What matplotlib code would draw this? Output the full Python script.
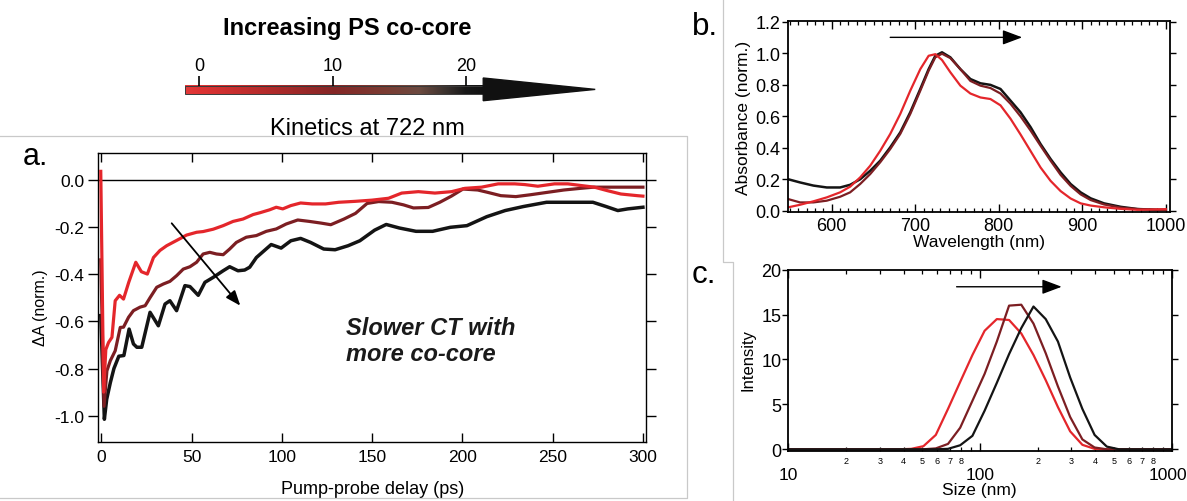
import numpy as np
import matplotlib
matplotlib.use("Agg")
import matplotlib.pyplot as plt
from matplotlib import ticker, transforms
from matplotlib.colors import LinearSegmentedColormap
from matplotlib.lines import Line2D
from matplotlib.patches import Polygon, Rectangle

plt.rcParams["font.family"] = ["Liberation Sans", "DejaVu Sans"]

RED = "#e4262b"
DARKRED = "#7c1e22"
BLACK = "#141414"

# ---- panel a: kinetics at 722 nm ----
red_t = [-0.3, 1.3, 2.5, 4.0, 5.9, 7.7, 10.1, 12.3, 15.2, 19.1, 22.2, 25.5, 28.9, 32.5,
         36.2, 39.9, 43.6, 47.2, 52.8, 56.4, 62.0, 67.5, 73.0, 78.5, 84.1, 88.0, 93.2,
         96.9, 100.5, 105.0, 110.4, 116.8, 124.2, 131.5, 140.7, 149.9, 159.1, 166.4,
         175.6, 184.8, 194.0, 201.4, 210.6, 219.8, 229.0, 234.5, 241.8, 251.0, 258.4,
         265.7, 273.1, 280.4, 287.8, 296.9, 300.0]
red_dA = [0.035, -0.90, -0.72, -0.69, -0.668, -0.513, -0.49, -0.506, -0.435, -0.35,
          -0.39, -0.40, -0.33, -0.30, -0.28, -0.265, -0.25, -0.235, -0.223, -0.22,
          -0.21, -0.195, -0.177, -0.167, -0.148, -0.14, -0.128, -0.117, -0.124, -0.11,
          -0.099, -0.103, -0.103, -0.096, -0.092, -0.087, -0.079, -0.057, -0.051,
          -0.057, -0.051, -0.037, -0.032, -0.018, -0.018, -0.021, -0.028, -0.018,
          -0.018, -0.025, -0.032, -0.047, -0.061, -0.068, -0.07]

dkred_t = [-0.3, 1.5, 3.1, 5.0, 7.7, 10.5, 12.3, 15.1, 17.8, 21.5, 24.3, 27.0, 30.7,
           34.4, 38.0, 41.7, 45.4, 49.1, 52.8, 56.4, 60.1, 63.8, 67.5, 71.1, 74.8, 80.3,
           85.9, 91.4, 96.9, 102.4, 108.8, 115.2, 121.6, 127.1, 134.4, 140.8, 147.2,
           153.6, 161.0, 167.4, 172.9, 181.1, 187.5, 193.9, 200.3, 208.5, 214.0, 221.3,
           229.6, 237.8, 247.0, 256.2, 265.4, 272.7, 283.7, 300.0]
dkred_dA = [-0.34, -0.96, -0.81, -0.767, -0.725, -0.626, -0.625, -0.583, -0.555, -0.54,
            -0.534, -0.50, -0.456, -0.442, -0.431, -0.407, -0.379, -0.369, -0.35, -0.315,
            -0.308, -0.315, -0.318, -0.294, -0.266, -0.244, -0.237, -0.219, -0.209,
            -0.188, -0.171, -0.177, -0.184, -0.191, -0.167, -0.143, -0.101, -0.093,
            -0.096, -0.107, -0.12, -0.118, -0.096, -0.07, -0.04, -0.044, -0.054, -0.068,
            -0.072, -0.064, -0.054, -0.044, -0.037, -0.032, -0.032, -0.032]

black_t = [-0.3, 1.7, 3.0, 5.0, 7.0, 9.7, 12.5, 15.4, 17.8, 19.7, 22.4, 27.0, 31.6,
           35.3, 38.0, 41.7, 46.3, 49.1, 53.7, 57.4, 62.0, 67.5, 71.1, 75.7, 79.4, 82.2,
           85.9, 94.1, 99.6, 105.0, 110.4, 115.9, 123.2, 129.5, 136.7, 143.2, 151.4,
           157.8, 165.1, 174.3, 183.5, 193.3, 202.5, 213.5, 223.7, 233.8, 246.6, 259.5,
           272.3, 279.6, 286.1, 291.6, 300.0]
black_dA = [-0.576, -1.015, -0.93, -0.86, -0.80, -0.748, -0.745, -0.633, -0.696, -0.71,
            -0.71, -0.562, -0.619, -0.527, -0.513, -0.555, -0.449, -0.453, -0.49, -0.435,
            -0.414, -0.386, -0.369, -0.386, -0.383, -0.371, -0.33, -0.275, -0.29, -0.259,
            -0.249, -0.266, -0.294, -0.297, -0.28, -0.259, -0.214, -0.19, -0.205, -0.219,
            -0.219, -0.202, -0.195, -0.157, -0.131, -0.114, -0.096, -0.096, -0.096,
            -0.114, -0.131, -0.124, -0.117]

# ---- panel b: absorbance spectra ----
wavelength = [548, 562, 578, 594, 610, 622, 634, 646, 658, 670, 682, 694, 706, 716, 724,
              732, 742, 754, 766, 778, 790, 802, 814, 826, 838, 850, 862, 874, 886, 898,
              910, 926, 946, 966, 990, 1000]
abs_black = [0.20, 0.18, 0.16, 0.148, 0.148, 0.165, 0.20, 0.254, 0.318, 0.403, 0.498,
             0.626, 0.774, 0.90, 0.985, 1.007, 0.975, 0.90, 0.837, 0.81, 0.80, 0.774,
             0.70, 0.626, 0.532, 0.424, 0.329, 0.244, 0.17, 0.117, 0.079, 0.047, 0.025,
             0.011, 0.006, 0.006]
abs_dkred = [0.074, 0.053, 0.053, 0.064, 0.089, 0.117, 0.17, 0.233, 0.308, 0.392, 0.488,
             0.615, 0.763, 0.89, 0.975, 0.998, 0.97, 0.90, 0.825, 0.795, 0.78, 0.745,
             0.68, 0.60, 0.51, 0.413, 0.318, 0.228, 0.158, 0.104, 0.068, 0.04, 0.02,
             0.011, 0.006, 0.006]
abs_red = [0.022, 0.038, 0.06, 0.085, 0.117, 0.153, 0.212, 0.286, 0.381, 0.488, 0.615,
           0.763, 0.90, 0.985, 0.995, 0.958, 0.88, 0.795, 0.745, 0.72, 0.71, 0.67, 0.585,
           0.485, 0.38, 0.275, 0.19, 0.125, 0.078, 0.047, 0.033, 0.022, 0.012, 0.006,
           0.009, 0.01]

# ---- panel c: DLS size distributions ----
size_nm = [8.72, 10.1, 11.7, 13.5, 15.7, 18.2, 21.0, 24.4, 28.2, 32.7, 37.8, 43.8, 50.7,
           58.8, 68.1, 78.8, 91.3, 105.7, 122.4, 141.8, 164.2, 190.1, 220.2, 255.0, 295.3,
           342.0, 396.1, 458.7, 531.2, 615.1, 712.4, 825.0, 955.4, 1106.4]
int_red = [0, 0, 0, 0, 0, 0, 0, 0, 0, 0, 0, 0.05, 0.35, 1.6, 4.5, 7.5, 10.5, 13.2, 14.5,
           14.4, 12.9, 10.5, 7.7, 4.7, 2.0, 0.5, 0.05, 0, 0, 0, 0, 0, 0, 0]
int_dkred = [0, 0, 0, 0, 0, 0, 0, 0, 0, 0, 0, 0, 0, 0.1, 0.6, 2.4, 5.4, 8.4, 12.0, 16.0,
             16.1, 14.0, 10.7, 7.0, 3.6, 1.1, 0.2, 0, 0, 0, 0, 0, 0, 0]
int_black = [0, 0, 0, 0, 0, 0, 0, 0, 0, 0, 0, 0, 0, 0, 0.05, 0.45, 1.5, 4.3, 7.4, 10.6,
             13.5, 15.9, 14.5, 12.0, 8.0, 4.5, 1.6, 0.3, 0, 0, 0, 0, 0, 0]

cocore_ticks = [0, 10, 20]

W, H = 1187, 502


def frame(l, t, r, b):
    return [l / W, 1 - b / H, (r - l) / W, (b - t) / H]


def fx(x):
    return x / W


def fy(y):
    return 1 - y / H


fig = plt.figure(figsize=(W / 100, H / 100), dpi=100)

# light grey borders of the pasted panels
grey = "#c9c9c9"
for xs, ys in [([0, 687, 687, 0], [137, 137, 499, 499]),
               ([723.3, 723.3, 733.3, 733.3], [0, 262.7, 262.7, 502])]:
    fig.add_artist(Line2D([fx(v) for v in xs], [fy(v) for v in ys],
                          transform=fig.transFigure, color=grey, lw=0.9))

# ---------- colour arrow on top ----------
cb = fig.add_axes(frame(150, 76.7, 620, 104))
cb.set_xlim((150 - 199.3) / 13.33, (620 - 199.3) / 13.33)
cb.set_ylim(104, 76.7)
bar_l, bar_r = -1.07, 21.3
tip = 29.7
stops = [(0.0, "#e33a3a"), (0.047, "#de3333"), (0.27, "#b42b2b"), (0.495, "#852626"),
         (0.674, "#7a3c33"), (0.785, "#6c4a40"), (0.875, "#3b322e"), (0.942, "#181818"),
         (1.0, "#111111")]
cmap = LinearSegmentedColormap.from_list("cocore", stops)
cb.imshow(np.linspace(0, 1, 256)[None, :], extent=[bar_l, bar_r, 95, 86.7],
          cmap=cmap, aspect="auto")
cb.add_patch(Rectangle((bar_l, 86.7), bar_r - bar_l, 8.3, fill=False,
                       edgecolor="#3a3a3a", lw=0.7))
cb.add_patch(Polygon([(bar_r, 79), (tip, 90.4), (bar_r, 101.7)], closed=True,
                     facecolor="#111111", edgecolor="#111111"))
cb.set_xticks(cocore_ticks)
cb.set_yticks([])
cb.tick_params(axis="x", top=True, bottom=False, labeltop=True, labelbottom=False,
               direction="in", length=7.2, width=1.2, labelsize=13, pad=1.5)
for s in cb.spines.values():
    s.set_visible(False)
cb.patch.set_visible(False)

fig.text(fx(347.5), fy(35), "Increasing PS co-core", ha="center", va="baseline",
         fontsize=17, fontweight="bold")
fig.text(fx(367.5), fy(135), "Kinetics at 722 nm", ha="center", va="baseline",
         fontsize=17)

# ---------- panel a ----------
ax_a = fig.add_axes(frame(98.3, 154.4, 646, 442.7))
ax_a.axhline(0, color="black", lw=1.0, zorder=1)
ax_a.plot(black_t, black_dA, color=BLACK, lw=2.5, zorder=3)
ax_a.plot(dkred_t, dkred_dA, color=DARKRED, lw=2.3, zorder=3)
ax_a.plot(red_t, red_dA, color=RED, lw=2.3, zorder=3)
ax_a.set_xlim(-1.66, 301.7)
ax_a.set_ylim(-1.11, 0.111)
ax_a.set_xticks(np.arange(0, 301, 50))
ax_a.set_yticks([0.0, -0.2, -0.4, -0.6, -0.8, -1.0])
ax_a.yaxis.set_major_formatter(ticker.FormatStrFormatter("%.1f"))
ax_a.tick_params(axis="x", direction="in", length=6.5, width=1, top=True,
                 labelsize=12.5, pad=5)
ax_a.tick_params(axis="y", direction="out", length=7, width=1, right=True,
                 labelsize=12.5, pad=3)
ax_a.set_xlabel("Pump-probe delay (ps)", fontsize=13)
ax_a.xaxis.label.set_va("center")
ax_a.xaxis.set_label_coords(0.5016, -0.164)
ax_a.set_ylabel("\u0394A (norm.)", fontsize=11.5)
ax_a.yaxis.label.set_va("center")
ax_a.yaxis.set_label_coords(-0.106, 0.47)
ax_a.annotate("", xy=(77, -0.534), xytext=(39, -0.185),
              arrowprops=dict(arrowstyle="-|>,head_length=0.9,head_width=0.35",
                              mutation_scale=10, color="black", lw=1.3,
                              shrinkA=0, shrinkB=0))
ax_a.text(135.4, -0.655, "Slower CT with", fontsize=17, fontweight="bold",
          fontstyle="italic", va="baseline", color="#1a1a1a")
ax_a.text(135.4, -0.765, "more co-core", fontsize=17, fontweight="bold",
          fontstyle="italic", va="baseline", color="#1a1a1a")
for s in ax_a.spines.values():
    s.set_linewidth(1.0)
fig.text(fx(23), fy(165), "a.", fontsize=22, va="baseline")

# ---------- panel b ----------
ax_b = fig.add_axes(frame(787.5, 22.3, 1170, 212.7))
ax_b.plot(wavelength, abs_black, color=BLACK, lw=1.8)
ax_b.plot(wavelength, abs_dkred, color=DARKRED, lw=1.6)
ax_b.plot(wavelength, abs_red, color=RED, lw=1.6)
ax_b.set_xlim(547, 1005)
ax_b.set_ylim(-0.006, 1.204)
ax_b.set_xticks([600, 700, 800, 900, 1000])
ax_b.xaxis.set_minor_locator(ticker.MultipleLocator(10))
ax_b.set_yticks([0.0, 0.2, 0.4, 0.6, 0.8, 1.0, 1.2])
ax_b.yaxis.set_major_formatter(ticker.FormatStrFormatter("%.1f"))
ax_b.tick_params(axis="x", which="major", direction="in", length=5.5, width=1,
                 top=True, labelsize=13, pad=4)
ax_b.tick_params(axis="x", which="minor", direction="in", length=3, width=0.9, top=True)
ax_b.tick_params(axis="y", direction="out", length=4, width=1, right=True,
                 labelsize=13, pad=1)
ax_b.set_xlabel("Wavelength (nm)", fontsize=12.5)
ax_b.xaxis.label.set_va("center")
ax_b.xaxis.set_label_coords(0.5, -0.154)
ax_b.set_ylabel("Absorbance (norm.)", fontsize=12.5)
ax_b.yaxis.label.set_va("center")
ax_b.yaxis.set_label_coords(-0.1156, 0.5)
ax_b.annotate("", xy=(828, 1.102), xytext=(670, 1.102),
              arrowprops=dict(arrowstyle="-|>,head_length=1.2,head_width=0.45",
                              mutation_scale=10, color="black", lw=1.0,
                              shrinkA=0, shrinkB=0))
for s in ax_b.spines.values():
    s.set_linewidth(1.3)
fig.text(fx(692), fy(35), "b.", fontsize=22.5, va="baseline")

# ---------- panel c ----------
ax_c = fig.add_axes(frame(788.3, 270.7, 1171.7, 451.7))
ax_c.plot(size_nm, int_red, color=RED, lw=1.6)
ax_c.plot(size_nm, int_dkred, color=DARKRED, lw=1.6)
ax_c.plot(size_nm, int_black, color=BLACK, lw=1.6)
ax_c.set_xscale("log")
ax_c.set_xlim(10, 1000)
ax_c.set_ylim(-0.156, 20)
ax_c.set_yticks([0, 5, 10, 15, 20])
ax_c.xaxis.set_major_locator(ticker.FixedLocator([10, 100, 1000]))
# the 1000 label sits slightly left of its tick so it stays inside the figure
ax_c.xaxis.set_major_formatter(ticker.FuncFormatter(
    lambda v, p: "" if v >= 1000 else f"{v:g}"))
ax_c.xaxis.set_minor_locator(ticker.LogLocator(base=10, subs=np.arange(2, 10),
                                               numticks=12))


def minor_label(v, pos):
    d = int(round(v / 10 ** np.floor(np.log10(v) + 1e-9)))
    return str(d) if 2 <= d <= 8 else ""


ax_c.xaxis.set_minor_formatter(ticker.FuncFormatter(minor_label))
ax_c.tick_params(axis="x", which="major", direction="in", length=6, width=1,
                 top=True, labelsize=12.5, pad=11.5)
ax_c.tick_params(axis="x", which="minor", direction="in", length=3, width=0.9,
                 top=True, labelsize=6.5, pad=3.5)
ax_c.tick_params(axis="y", direction="out", length=4, width=1, right=True,
                 labelsize=13, pad=1)
trans_c = transforms.blended_transform_factory(ax_c.transData, ax_c.transAxes)
ax_c.text(1000, -0.09, "1000", transform=trans_c
          + transforms.ScaledTranslation(-4 / 100, 0, fig.dpi_scale_trans),
          ha="center", va="top", fontsize=12.5, clip_on=False)
ax_c.set_xlabel("Size (nm)", fontsize=12.5)
ax_c.xaxis.label.set_va("center")
ax_c.xaxis.set_label_coords(0.497, -0.212)
ax_c.set_ylabel("Intensity", fontsize=12)
ax_c.yaxis.label.set_va("center")
ax_c.yaxis.set_label_coords(-0.104, 0.507)
ax_c.annotate("", xy=(266.8, 18.1), xytext=(75.5, 18.1),
              arrowprops=dict(arrowstyle="-|>,head_length=1.2,head_width=0.45",
                              mutation_scale=10, color="black", lw=1.0,
                              shrinkA=0, shrinkB=0))
for s in ax_c.spines.values():
    s.set_linewidth(1.3)
fig.text(fx(691.7), fy(283.3), "c.", fontsize=22.5, va="baseline")

fig.savefig("out.png", dpi=100)
